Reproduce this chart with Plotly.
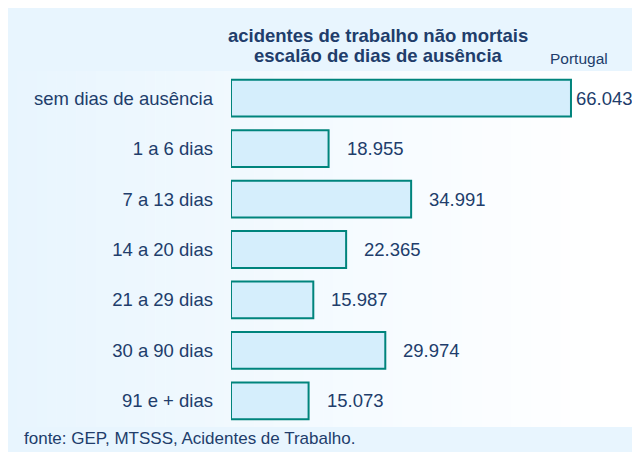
import plotly.graph_objects as go

categories = ["sem dias de ausência", "1 a 6 dias", "7 a 13 dias", "14 a 20 dias",
              "21 a 29 dias", "30 a 90 dias", "91 e + dias"]
values = [66043, 18955, 34991, 22365, 15987, 29974, 15073]
labels = [f"{v:,}".replace(",", ".") for v in values]

OFF = 8  # page body margin
W, H = 640 - OFF, 452 - OFF
L, R, T, B = 231 - OFF, 0, 73 - OFF, 26
TEXT = "#213d6b"

def px(rx):
    fx = max(rx - OFF, 0)
    return (fx - L) / (W - L - R)

def py(ry):
    fy = max(ry - OFF, 0)
    return (H - B - fy) / (H - T - B)

fig = go.Figure()
fig.add_trace(go.Bar(
    x=values, y=categories, orientation="h", width=0.73,
    marker=dict(color="#d5eefc", line=dict(color="#00847c", width=2)),
    hoverinfo="skip",
))

shapes = []
shapes.append(dict(type="rect", xref="paper", yref="paper", x0=px(7), x1=px(640),
                   y0=py(71), y1=py(7), fillcolor="#e8f5fe",
                   line=dict(width=0), layer="below"))
shapes.append(dict(type="rect", xref="paper", yref="paper", x0=px(7), x1=px(640),
                   y0=py(452), y1=py(427), fillcolor="#e8f5fe",
                   line=dict(width=0), layer="below"))
n = 60
x_start, x_end = 7, 600
c0 = (0xe8, 0xf5, 0xfe)
for i in range(n):
    a = x_start + (x_end - x_start) * i / n
    b = x_start + (x_end - x_start) * (i + 1) / n + 0.5
    t = (i + 0.5) / n
    col = tuple(round(c0[k] + (255 - c0[k]) * t) for k in range(3))
    shapes.append(dict(type="rect", xref="paper", yref="paper", x0=px(a), x1=px(b),
                       y0=py(427), y1=py(71),
                       fillcolor="rgb(%d,%d,%d)" % col, line=dict(width=0), layer="below"))

annotations = []
for i, (c, v, lab) in enumerate(zip(categories, values, labels)):
    annotations.append(dict(x=v, y=c, xref="x", yref="y", text=lab, showarrow=False,
                            xanchor="left", xshift=3 if i == 0 else 16,
                            font=dict(size=18.5, color=TEXT)))
annotations.append(dict(x=px(378), y=py(35), xref="paper", yref="paper",
                        text="<b>acidentes de trabalho não mortais</b>", showarrow=False,
                        xanchor="center", yanchor="middle", font=dict(size=18.5, color=TEXT)))
annotations.append(dict(x=px(378), y=py(56), xref="paper", yref="paper",
                        text="<b>escalão de dias de ausência</b>", showarrow=False,
                        xanchor="center", yanchor="middle", font=dict(size=18.5, color=TEXT)))
annotations.append(dict(x=px(548), y=py(58), xref="paper", yref="paper",
                        text="Portugal", showarrow=False,
                        xanchor="left", yanchor="middle", font=dict(size=15.5, color=TEXT)))
annotations.append(dict(x=px(22), y=py(438), xref="paper", yref="paper",
                        text="fonte: GEP, MTSSS, Acidentes de Trabalho.", showarrow=False,
                        xanchor="left", yanchor="middle", font=dict(size=17, color=TEXT)))

fig.update_layout(
    width=W, height=H,
    margin=dict(l=L, r=R, t=T, b=B),
    paper_bgcolor="white", plot_bgcolor="rgba(0,0,0,0)",
    font=dict(family="Liberation Sans, Arial, sans-serif", color=TEXT),
    showlegend=False,
    shapes=shapes, annotations=annotations,
    xaxis=dict(range=[0, 79450], visible=False, fixedrange=True),
    yaxis=dict(autorange="reversed", showgrid=False, zeroline=False, showline=False,
               ticks="", ticklabelstandoff=17, tickfont=dict(size=18.5, color=TEXT)),
)

fig.write_html("out.html")
